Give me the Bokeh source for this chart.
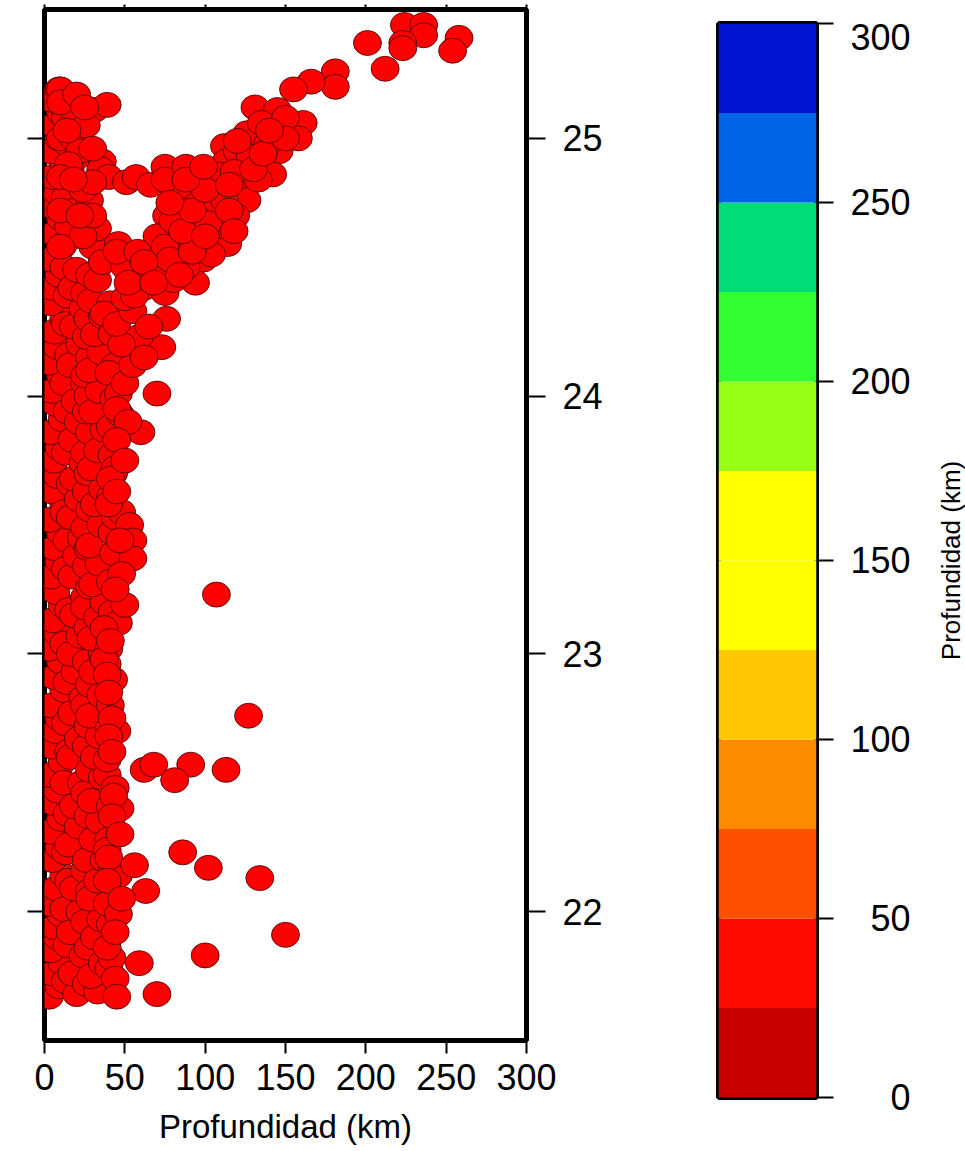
from bokeh.plotting import figure
from bokeh.layouts import row, column
from bokeh.models import LinearAxis, Range1d, FixedTicker, ColumnDataSource, Spacer
from bokeh.embed import file_html
from bokeh.resources import INLINE

FONT = "Liberation Sans"

# ---------------- data: (depth km, latitude) ----------------
col_a = [(3,21.67),(9,21.71),(5,21.76),(11,21.80),(4,21.85),(8,21.90),(6,21.94),(10,21.99),(3,22.03),(7,22.09),
         (12,22.14),(5,22.20),(9,22.25),(4,22.31),(10,22.36),(6,22.42),(8,22.47),(3,22.53),(11,22.58),(5,22.64),
         (7,22.70),(9,22.75),(4,22.80),(12,22.86),(6,22.91),(10,22.97),(3,23.02),(8,23.08),(5,23.13),(11,23.19),
         (7,23.24),(4,23.30),(9,23.36),(6,23.41),(10,23.47),(3,23.52),(12,23.58),(5,23.63),(8,23.69),(6,23.75),
         (9,23.80),(4,23.86),(11,23.91),(7,23.97),(5,24.02),(10,24.08),(3,24.13),(8,24.19),(6,24.25),(12,24.30),
         (4,24.36),(5,24.42),(9,24.47),(4,24.53),(11,24.58),(6,24.63),(10,24.69),(3,24.74),(8,24.79),(5,24.85),
         (12,24.90),(4,24.95),(9,25.00),(6,25.05),(10,25.10),(4,25.15),(9,25.19)]

col_b = [(20,21.68),(17,21.76),(24,21.83),(16,21.92),(22,22.00),(18,22.09),(25,22.16),(15,22.26),(21,22.33),(18,22.41),
         (23,22.50),(16,22.60),(21,22.67),(17,22.77),(24,22.83),(19,22.93),(16,23.00),(22,23.07),(18,23.15),(25,23.22),
         (17,23.30),(20,23.38),(23,23.45),(16,23.53),(21,23.60),(18,23.68),(24,23.74),(17,23.83),(21,23.90),(19,23.98),
         (25,24.05),(16,24.12),(22,24.20),(18,24.27),(24,24.34),(17,24.42),(20,24.49),(15,24.66),(19,24.72),(24,24.80),
         (16,24.88),(21,24.93),(17,25.05),(22,25.08),(17,25.12),(10,25.19)]

col_c = [(33,21.69),(29,21.75),(36,21.80),(31,21.90),(35,21.97),(28,22.05),(33,22.12),(37,22.20),(30,22.28),(34,22.35),
         (29,22.43),(36,22.52),(31,22.60),(34,22.68),(28,22.76),(35,22.84),(30,22.93),(36,23.00),(29,23.06),(33,23.14),
         (37,23.20),(30,23.27),(34,23.35),(28,23.42),(35,23.50),(31,23.58),(36,23.64),(29,23.72),(33,23.79),(37,23.87),
         (30,23.94),(34,24.02),(28,24.10),(35,24.17),(31,24.24),(36,24.31),(29,24.37),(33,24.45),(36,24.52),(30,24.58),
         (33,24.65),(28,24.76),(36,24.91),(35,24.88),(31,25.11),(39,25.13)]

col_d = [(13,21.73),(14,21.87),(12,22.01),(15,22.12),(13,22.23),(14,22.38),(12,22.50),(15,22.62),(13,22.73),(14,22.89),
         (12,23.04),(15,23.17),(13,23.33),(14,23.44),(12,23.55),(16,23.66),(13,23.78),(14,23.94),(12,24.05),(15,24.16),
         (13,24.28),(14,24.39),(12,24.50),(15,24.61),(13,24.77),(14,24.98),(13,25.08)]

col_e = [(26,21.72),(27,21.86),(25,21.96),(28,22.08),(26,22.20),(27,22.37),(25,22.46),(28,22.55),(26,22.64),(27,22.72),
         (25,22.80),(28,22.88),(26,22.97),(27,23.10),(25,23.18),(28,23.26),(26,23.34),(27,23.41),(25,23.49),(28,23.56),
         (26,23.63),(27,23.70),(25,23.78),(28,23.86),(26,23.94),(27,24.00),(25,24.08),(28,24.15),(26,24.23),(27,24.30),
         (25,24.40),(28,24.47)]

col_f = [(40,21.78),(41,21.95),(39,22.03),(42,22.16),(40,22.28),(41,22.41),(39,22.53),(40,22.71),(41,22.80),(39,22.96),
         (40,23.02),(42,23.16),(41,23.28),(43,23.39),(42,23.47),(44,23.53),(41,23.61),(43,23.70),(42,23.77),(41,23.88),
         (43,23.99),(44,24.12),(42,24.24),(41,24.36),(47,23.93),(48,23.55),(46,23.12),(43,22.90),(45,22.70),(47,22.40),
         (46,22.14),(42,21.82)]

edge = [(76,24.30),(73,24.19),(70,24.01),(60,23.86),(37,24.32),(59,24.23),(40,24.09),(46,24.01),(44,23.72),(41,23.68),
        (40,23.58),(53,23.50),(55,23.44),(55,23.37),(48,23.31),(50,23.19),(37,23.10),(37,22.98),(39,22.92),(42,22.75),
        (40,22.68),(39,22.59),(44,22.48),(43,22.45),(42,22.37),(39,22.24),(40,22.21),(56,22.18),(39,22.12),(63,22.08),
        (46,21.99),(39,21.86),(59,21.80),(44,21.74),(45,21.67),(70,21.68),(50,24.05),(55,24.12),(48,24.20),(62,24.15),
        (45,24.28),(55,24.33),(65,24.27),(50,24.38),(62,24.42),(45,23.95),(52,23.90),(45,23.83),(50,23.75),(45,23.63),
        (47,23.44),(44,23.25),(41,23.05),(40,22.85),(42,22.62),(47,22.30),(48,22.05),(44,21.92)]

south = [(127,22.76),(62,22.55),(68,22.57),(91,22.57),(81,22.51),(113,22.55),(86,22.23),(102,22.17),(134,22.13),
         (150,21.91),(100,21.83),(107,23.23)]

upper_left = [(10,25.14),(10,25.00),(18,25.00),(26,25.05),(22,24.95),(15,24.90),(20,25.17),(10,24.85),(24,24.80),
              (10,24.72),(24,24.62),(46,24.59),(10,24.58),(36,24.52),(40,24.85),(51,24.83),(57,24.85),(66,24.82),(75,24.89),
              (30,24.83),(18,24.84),(30,24.70),(22,24.70),(30,24.96),(25,25.12),(14,25.03)]

arm = [(131,25.12),(145,25.11),(161,25.06),(158,25.00),(145,25.05),(126,25.02),(146,24.95),(112,24.97),(124,24.90),
       (142,24.86),(113,24.91),(131,24.99),(135,25.06),(150,25.08),(139,24.98),(120,24.95),(128,24.93),(103,24.83),
       (124,24.81),(126,24.76),(93,24.85),(133,24.84),(98,24.74),(119,24.70),(106,24.75),(90,24.65),(106,24.63),
       (114,24.59),(99,24.53),(94,24.44),(82,24.55),(69,24.57),(66,24.51),(56,24.39),(75,24.40),(76,24.70),(70,24.62),
       (85,24.77),(95,24.79),(112,24.76),(83,24.81),(75,24.84),(88,24.89),(108,24.86),(118,24.87),(80,24.68),(95,24.69),
       (110,24.66),(85,24.61),(98,24.60),(75,24.58),(88,24.50),(80,24.45),(60,24.46),(50,24.50),(45,24.56),(58,24.56),
       (104,24.55),(70,24.50),(78,24.53),(92,24.56),(62,24.52),(86,24.64),(102,24.67),(92,24.72),(100,24.62),(115,24.72),
       (118,24.64),(100,24.80),(115,24.82),(130,24.88),(136,24.94),(150,25.00),(140,25.03),(120,24.99),(78,24.75),
       (88,24.84),(99,24.89),(52,24.44),(68,24.44),(84,24.47)]

tail = [(224,25.44),(236,25.44),(236,25.40),(223,25.37),(223,25.35),(201,25.37),(258,25.39),(254,25.34),(212,25.27),
        (181,25.26),(181,25.20),(166,25.22),(155,25.19)]

x_ticks = [0, 50, 100, 150, 200, 250, 300]
y_ticks = [22, 23, 24, 25]
cb_edges = [0, 25, 50, 75, 100, 125, 150, 175, 200, 225, 250, 275, 300]
cb_colors = ["#C80000", "#FF0A00", "#FF5000", "#FF8C00", "#FFC800", "#FFFF00",
             "#FFFF00", "#96FF14", "#32FF32", "#00DC78", "#0064E6", "#0014D2"]
cb_ticks = [0, 50, 100, 150, 200, 250, 300]
cb_tick_labels = ["\u2007\u20070", "\u200750", "100", "150", "200", "250", "300"]
axis_title = "Profundidad (km)"

# ---------------- scatter figure ----------------
pts = col_a + col_d + col_b + col_e + col_c + col_f + edge + south + upper_left + arm + tail
src = ColumnDataSource(dict(depth=[q[0] for q in pts], lat=[q[1] for q in pts]))

p = figure(title=None, frame_width=482, frame_height=1031, x_range=Range1d(0, 300), y_range=Range1d(21.5, 25.5),
           output_backend="svg", toolbar_location=None, x_axis_location="below", y_axis_location="left",
           min_border_left=44, min_border_top=0, min_border_right=90, min_border_bottom=106)
p.grid.visible = False
p.outline_line_color = "black"
p.outline_line_width = 5

p.ellipse(x="depth", y="lat", width=28, height=25, width_units="screen", height_units="screen",
          fill_color="#FF0000", line_color="#3c0000", line_width=0.8, source=src)

def style(ax, tick_out, size="36px"):
    ax.axis_line_color = None
    ax.major_tick_out = tick_out
    ax.major_tick_in = 0
    ax.minor_tick_out = 0
    ax.minor_tick_in = 0
    ax.major_tick_line_width = 2
    ax.major_label_text_font = FONT
    ax.major_label_text_font_size = size
    ax.major_label_text_color = "black"

xb = p.xaxis[0]
xb.ticker = FixedTicker(ticks=x_ticks)
style(xb, 13)
xb.major_label_standoff = 10
xb.axis_label = axis_title
xb.axis_label_text_font = FONT
xb.axis_label_text_font_size = "33px"
xb.axis_label_text_font_style = "normal"
xb.axis_label_text_color = "black"
xb.axis_label_standoff = 15

yl = p.yaxis[0]
yl.ticker = FixedTicker(ticks=y_ticks)
style(yl, 17, "1px")
yl.major_label_overrides = {t: " " for t in y_ticks}
yl.major_label_standoff = 0

yr = LinearAxis(ticker=FixedTicker(ticks=y_ticks))
style(yr, 19)
yr.major_label_standoff = 17
p.add_layout(yr, "right")

xt = LinearAxis(ticker=FixedTicker(ticks=x_ticks))
style(xt, 5, "1px")
xt.major_label_overrides = {t: " " for t in x_ticks}
xt.major_label_standoff = 0
p.add_layout(xt, "above")

# ---------------- colour bar figure ----------------
cb_src = ColumnDataSource(dict(bottom=cb_edges[:-1], top=cb_edges[1:], color=cb_colors))
c = figure(title=None, frame_width=98, frame_height=1074, x_range=Range1d(0, 1), y_range=Range1d(0, 300),
           output_backend="svg", toolbar_location=None, x_axis_location=None, y_axis_location="right",
           min_border_left=102, min_border_top=7, min_border_right=94, min_border_bottom=30)
c.grid.visible = False
c.outline_line_color = "black"
c.outline_line_width = 5
c.quad(left=0, right=1, bottom="bottom", top="top", fill_color="color", line_color=None, source=cb_src)

ca = c.yaxis[0]
ca.ticker = FixedTicker(ticks=cb_ticks)
style(ca, 17)
ca.major_label_overrides = dict(zip(cb_ticks, cb_tick_labels))
ca.major_label_standoff = 17

# ---------------- colour bar title (vertical, reads upward) ----------------
t = figure(title=None, frame_width=1, frame_height=1074, x_range=Range1d(0, 1), y_range=Range1d(0, 300),
           output_backend="svg", toolbar_location=None, x_axis_location=None, y_axis_location="left",
           min_border_left=52, min_border_top=7, min_border_right=0, min_border_bottom=30)
t.grid.visible = False
t.outline_line_color = None
ta = t.yaxis[0]
ta.ticker = FixedTicker(ticks=[])
ta.axis_line_color = None
ta.major_tick_out = 0
ta.major_tick_in = 0
ta.minor_tick_out = 0
ta.minor_tick_in = 0
ta.major_label_standoff = 0
ta.axis_label = axis_title
ta.axis_label_text_font = FONT
ta.axis_label_text_font_size = "26px"
ta.axis_label_text_font_style = "normal"
ta.axis_label_text_color = "black"
ta.axis_label_standoff = 0

right_part = column(Spacer(width=1, height=16), row(c, t))
layout = row(p, right_part)
open("out.html", "w").write(file_html(layout, INLINE))
